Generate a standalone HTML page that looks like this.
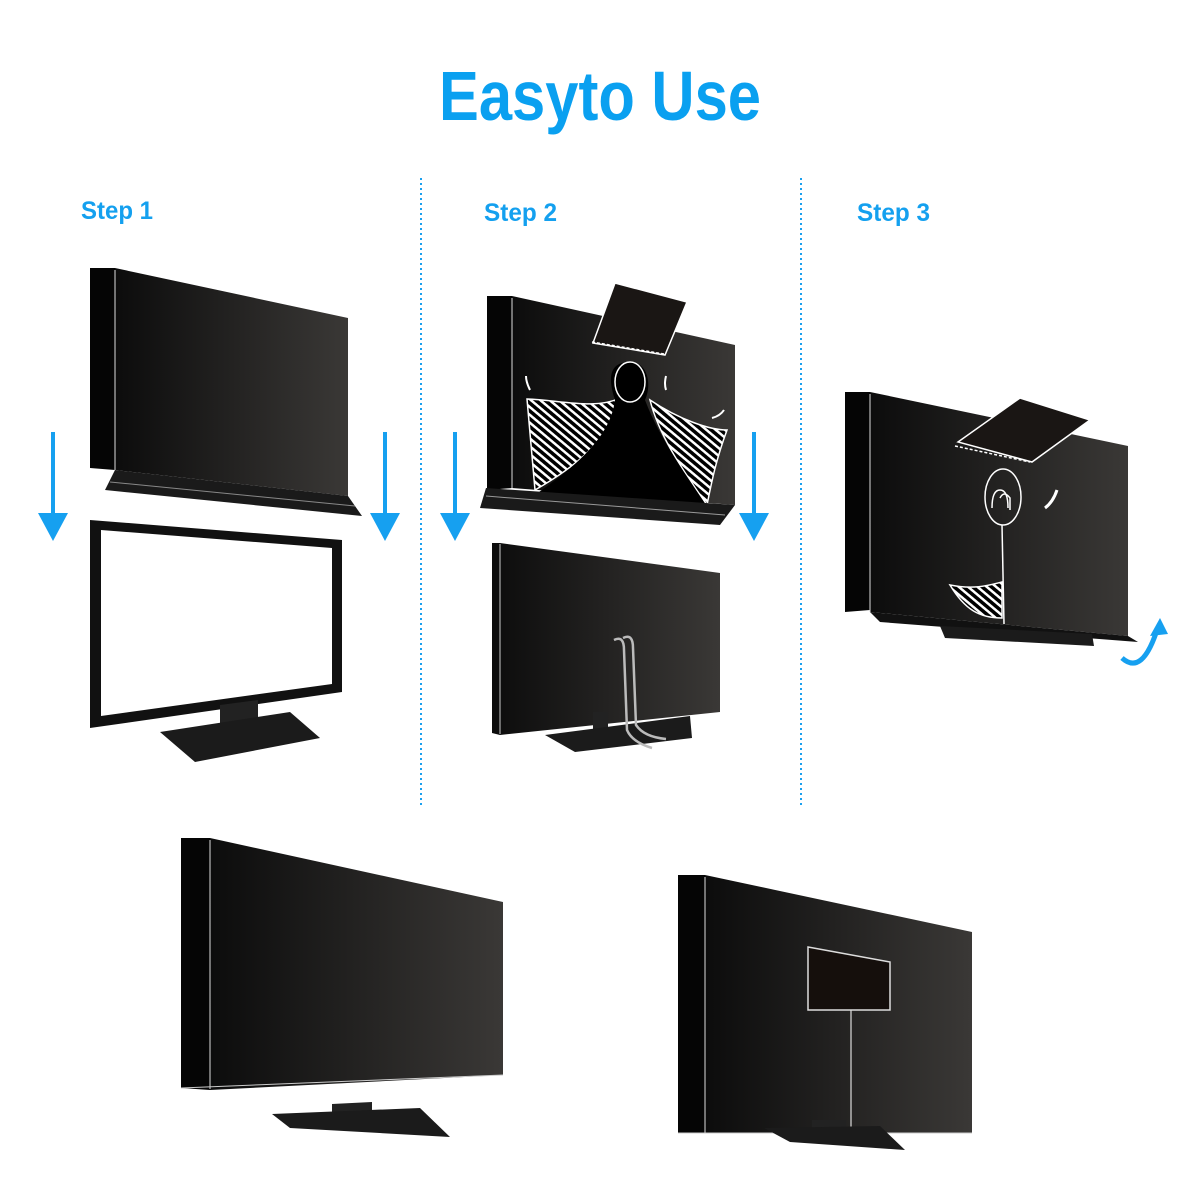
<!DOCTYPE html>
<html><head><meta charset="utf-8"><style>
html,body{margin:0;padding:0;background:#fff;}
svg{display:block;}
</style></head><body>
<svg width="1200" height="1200" viewBox="0 0 1200 1200" xmlns="http://www.w3.org/2000/svg">
<defs>
<linearGradient id="g" x1="0" x2="1" y1="0" y2="0">
<stop offset="0" stop-color="#0c0c0c"/><stop offset="1" stop-color="#3a3836"/></linearGradient>
<pattern id="h" width="6" height="6" patternUnits="userSpaceOnUse" patternTransform="rotate(40)">
<rect width="6" height="6" fill="#000"/><rect width="6" height="2.5" fill="#fff"/></pattern>
</defs>
<rect width="1200" height="1200" fill="#fff"/>
<text x="600" y="120" text-anchor="middle" font-family="Liberation Sans, sans-serif" font-weight="bold" font-size="70" fill="#0aa0f0" textLength="322" lengthAdjust="spacingAndGlyphs">Easyto Use</text>
<g font-family="Liberation Sans, sans-serif" font-size="25" font-weight="bold" fill="#14a0ef">
<text x="81" y="219" textLength="72" lengthAdjust="spacingAndGlyphs">Step 1</text>
<text x="484" y="221" textLength="73" lengthAdjust="spacingAndGlyphs">Step 2</text>
<text x="857" y="221" textLength="73" lengthAdjust="spacingAndGlyphs">Step 3</text>
</g>
<line x1="421" y1="178" x2="421" y2="806" stroke="#1aa0ef" stroke-width="2" stroke-dasharray="2 3"/>
<line x1="801" y1="178" x2="801" y2="806" stroke="#1aa0ef" stroke-width="2" stroke-dasharray="2 3"/>

<g fill="#16a0f0" stroke="#16a0f0">
<line x1="53" y1="432" x2="53" y2="515" stroke-width="4"/><polygon points="38,513 68,513 53,541" stroke="none"/>
<line x1="385" y1="432" x2="385" y2="515" stroke-width="4"/><polygon points="370,513 400,513 385,541" stroke="none"/>
<line x1="455" y1="432" x2="455" y2="515" stroke-width="4"/><polygon points="440,513 470,513 455,541" stroke="none"/>
<line x1="754" y1="432" x2="754" y2="515" stroke-width="4"/><polygon points="739,513 769,513 754,541" stroke="none"/>
</g>

<polygon points="90,268 115,268 115,470 90,468" fill="#050505"/>
<polygon points="115,268 348,318 348,496 115,470" fill="url(#g)"/>
<line x1="115" y1="270" x2="115" y2="470" stroke="#ddd" stroke-width="1"/>
<polygon points="115,470 348,496 362,516 105,490" fill="#1a1a1a"/>
<line x1="110" y1="482" x2="355" y2="506" stroke="#888" stroke-width="1"/>
<polygon points="90,520 342,540 342,692 90,728" fill="#111"/>
<polygon points="101,530 332,548 332,684 101,716" fill="#fff"/>
<polygon points="220,705 258,700 258,730 220,732" fill="#222"/>
<polygon points="160,732 290,712 320,738 195,762" fill="#1b1b1b"/>

<polygon points="487,296 512,296 512,488 487,490" fill="#050505"/>
<polygon points="512,296 735,345 735,505 512,488" fill="url(#g)"/>
<line x1="512" y1="298" x2="512" y2="488" stroke="#ddd"/>
<polygon points="615,283 687,302 665,355 593,343" fill="#1a1614" stroke="#fff" stroke-width="1.5"/>
<line x1="592" y1="342" x2="664" y2="354" stroke="#fff" stroke-dasharray="3 2" stroke-width="1.5"/>
<path d="M527,399 C560,400 595,410 620,398 C612,440 570,470 535,490 Z" fill="url(#h)" stroke="#fff" stroke-width="1.5"/>
<path d="M650,400 C680,420 710,430 727,430 C716,460 712,480 707,505 C690,480 660,440 650,400 Z" fill="url(#h)" stroke="#fff" stroke-width="1.5"/>
<path d="M615,400 C605,370 615,362 630,362 C648,362 652,385 645,400 C660,440 690,480 706,505 L535,495 C570,470 610,440 615,400 Z" fill="#000"/>
<ellipse cx="630" cy="382" rx="15" ry="20" fill="#000" stroke="#fff" stroke-width="1.5"/>
<polygon points="480,508 486,488 735,505 720,525" fill="#1a1a1a"/>
<line x1="486" y1="496" x2="725" y2="515" stroke="#999"/>
<g stroke="#fff" stroke-width="2" fill="none"><path d="M530,390 q-4,-8 -4,-14"/><path d="M666,390 q-2,-6 0,-14"/><path d="M712,418 q8,-2 12,-8"/></g>
<polygon points="492,543 500,543 720,573 720,712 500,735 492,733" fill="url(#g)"/>
<line x1="500" y1="544" x2="500" y2="734" stroke="#ccc"/>
<polygon points="593,712 608,712 608,738 593,738" fill="#222"/>
<polygon points="545,735 690,716 692,738 575,752" fill="#1b1b1b"/>
<path d="M614,640 q10,-5 10,10 L627,730 q5,12 25,18" stroke="#bbb" stroke-width="2.5" fill="none"/>
<path d="M623,638 q10,-5 10,10 L636,725 q8,12 30,14" stroke="#bbb" stroke-width="2.5" fill="none"/>

<polygon points="845,392 870,392 870,610 845,612" fill="#050505"/>
<polygon points="870,392 1128,446 1128,636 870,612" fill="url(#g)"/>
<line x1="870" y1="394" x2="870" y2="612" stroke="#ddd"/>
<polygon points="958,442 1020,398 1090,420 1032,462" fill="#1a1614" stroke="#fff" stroke-width="1.5"/>
<line x1="955" y1="446" x2="1030" y2="462" stroke="#fff" stroke-dasharray="3 2" stroke-width="1.5"/>
<ellipse cx="1003" cy="497" rx="18" ry="28" fill="none" stroke="#fff" stroke-width="1.5"/>
<path d="M992,508 q0,-18 8,-18 q8,0 8,18 M1000,498 q4,-8 10,0 L1010,510" stroke="#fff" stroke-width="1.5" fill="none"/>
<line x1="1002" y1="525" x2="1004" y2="624" stroke="#fff" stroke-width="1.5"/>
<path d="M950,585 C975,590 990,585 1002,582 L1002,618 C980,618 965,610 950,585 Z" fill="url(#h)" stroke="#fff" stroke-width="1.5"/>
<path d="M1045,508 q8,-6 12,-18" stroke="#fff" stroke-width="3" fill="none"/>
<polygon points="870,612 1128,636 1138,642 880,622" fill="#111"/>
<polygon points="940,626 1092,634 1094,646 945,638" fill="#1b1b1b"/>
<path d="M1122,658 q20,18 35,-28" stroke="#16a0f0" stroke-width="5" fill="none"/>
<polygon points="1150,636 1168,634 1160,618" fill="#16a0f0"/>

<polygon points="181,838 210,838 210,1090 181,1088" fill="#050505"/>
<polygon points="210,838 503,902 503,1075 210,1090" fill="url(#g)"/>
<line x1="210" y1="840" x2="210" y2="1089" stroke="#ddd"/>
<line x1="181" y1="1088" x2="503" y2="1075" stroke="#ccc"/>
<polygon points="332,1104 372,1102 372,1118 332,1120" fill="#222"/>
<polygon points="272,1114 420,1108 450,1137 290,1128" fill="#1b1b1b"/>

<polygon points="678,875 705,875 705,1133 678,1133" fill="#050505"/>
<polygon points="705,875 972,932 972,1133 705,1133" fill="url(#g)"/>
<line x1="705" y1="877" x2="705" y2="1133" stroke="#ddd"/>
<line x1="678" y1="1133" x2="972" y2="1133" stroke="#ccc"/>
<polygon points="808,947 890,962 890,1010 808,1010" fill="#150f0c" stroke="#ddd" stroke-width="1.5"/>
<line x1="851" y1="1010" x2="851" y2="1133" stroke="#ddd" stroke-width="1.2"/>
<polygon points="812,1120 846,1120 846,1134 812,1134" fill="#222"/>
<polygon points="764,1128 880,1126 905,1150 790,1142" fill="#1b1b1b"/>
</svg>
</body></html>
